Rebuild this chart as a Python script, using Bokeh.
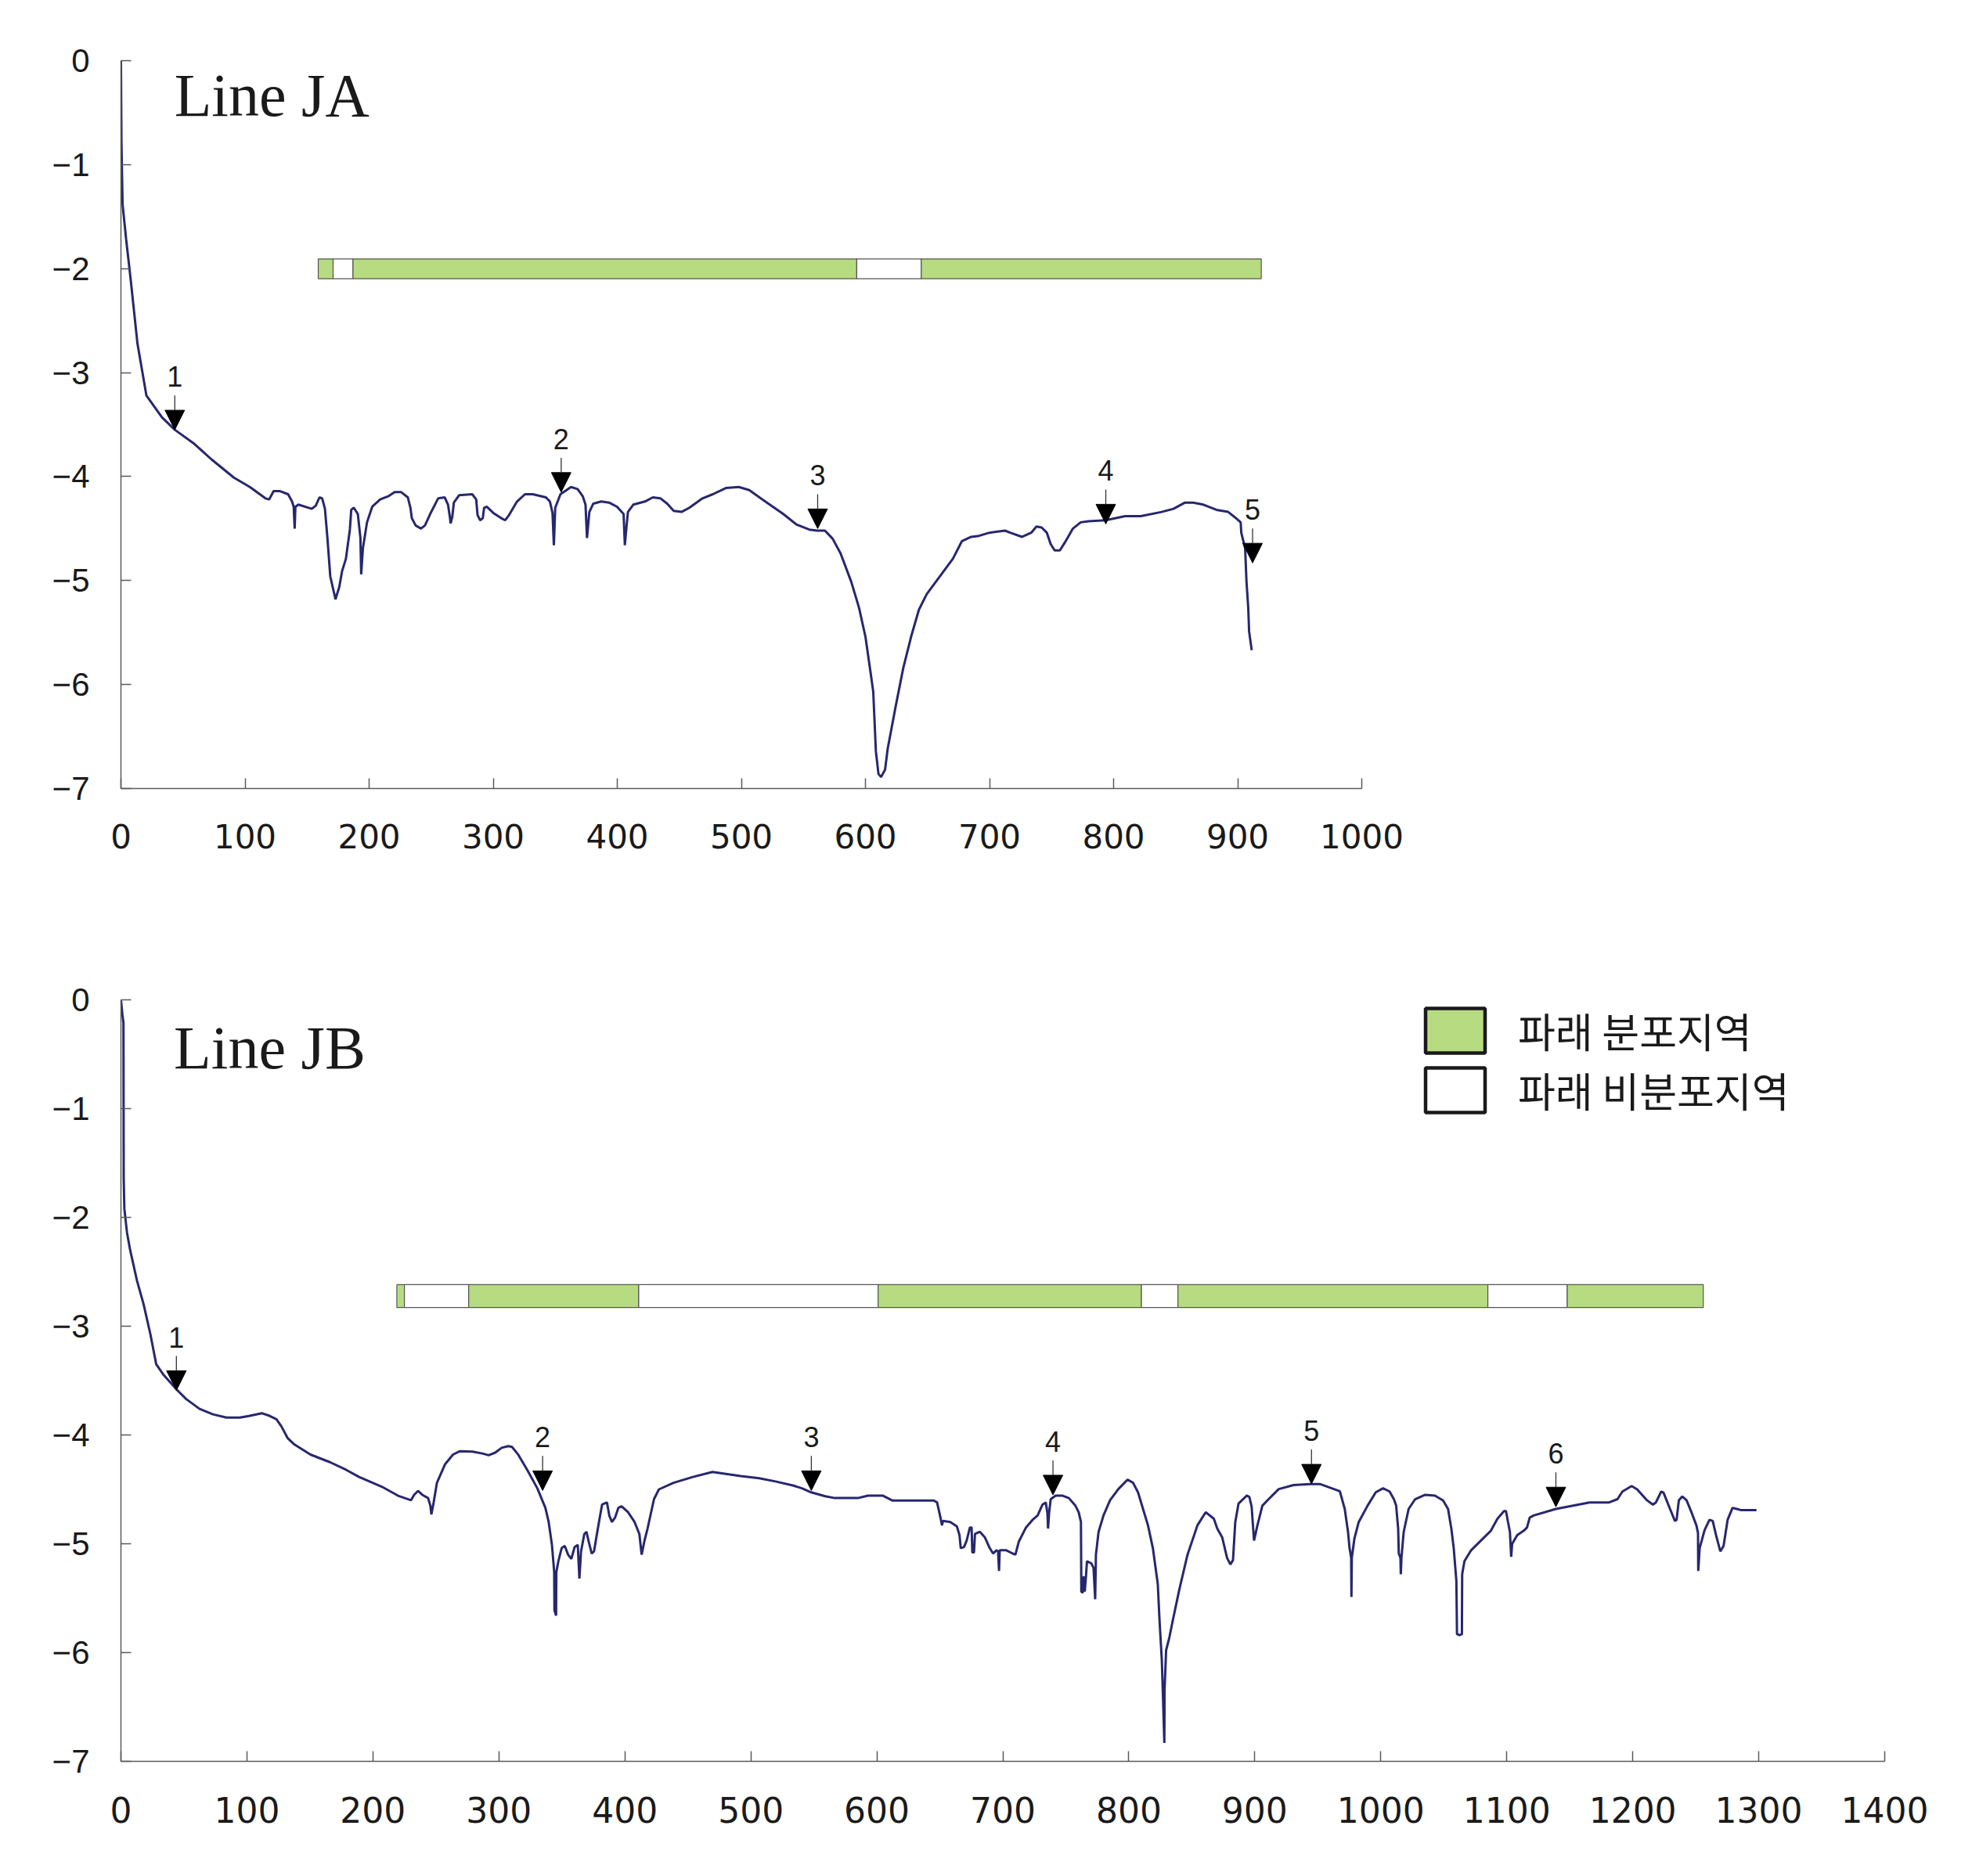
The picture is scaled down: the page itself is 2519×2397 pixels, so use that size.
from bokeh.plotting import figure
from bokeh.models import (Range1d, FixedTicker, ColumnDataSource, Arrow, NormalHead,
                          Legend, LegendItem)
from bokeh.layouts import column
from bokeh.embed import file_html
from bokeh.resources import INLINE
from bokeh.core.properties import value

# ---------------- data: Line JA ----------------
ja_x = [0, 0.4, 1.3, 4.2, 7.9, 13.3, 20.5, 33, 43.4, 58.6, 73, 91, 103.9, 116.5, 119.5, 123,
        128.3, 134.7, 137.9, 139.2, 140, 140.6, 143, 153.8, 157, 160, 162.2, 164.4, 166.4,
        168.7, 172.9, 176, 178.2, 181.3, 184.5, 185.6, 187.7, 190.9, 193, 193.6, 195, 198.3,
        202.5, 208.9, 215.3, 220.6, 225.9, 231.2, 233.3, 234.4, 237.5, 241.8, 245, 249.2,
        255.6, 260.9, 263.6, 265.1, 265.7, 267, 268.3, 272.5, 283.1, 286.3, 287.4, 289.5,
        291.6, 292.7, 294.8, 300.1, 306.5, 309.7, 312.8, 319.2, 325.6, 331.9, 342.5, 345.7,
        347.8, 348.9, 350, 354.2, 362.7, 368, 372.2, 374.4, 375.6, 377.5, 380.7, 387.1,
        393.4, 399.8, 405.1, 406.1, 407.3, 408.6, 412.9, 422.3, 428.6, 434.9, 440.2, 445.5,
        451.8, 458.1, 468.6, 477, 487.5, 498, 506.4, 517, 533.8, 544.3, 554.8, 561.1, 567.4,
        573.7, 580, 588.5, 594.8, 600, 604.2, 606.3, 608.4, 610.5, 612.6, 615.8, 617.9,
        624.2, 630.5, 636.8, 643.1, 649.4, 660, 670.5, 677.8, 685.2, 691.5, 699.9, 712.5,
        716.7, 726.2, 733.6, 737.8, 742, 746.2, 749.3, 752.5, 756.7, 760.9, 767.2, 773.5,
        779.8, 793.5, 809.3, 821.9, 838.7, 848.2, 857.6, 864, 872.4, 882.9, 892.3, 897.6,
        902.4, 902.9, 906, 907.1, 908.5, 909.2, 911.3]
ja_y = [0, -0.78, -1.38, -1.72, -2.11, -2.72, -3.22, -3.43, -3.55, -3.68, -3.835, -4.01, -4.10,
        -4.21, -4.22, -4.14, -4.14, -4.17, -4.24, -4.29, -4.50, -4.29, -4.27, -4.31, -4.28,
        -4.20, -4.21, -4.31, -4.59, -4.96, -5.18, -5.06, -4.91, -4.79, -4.51, -4.32, -4.30,
        -4.36, -4.59, -4.94, -4.69, -4.44, -4.29, -4.22, -4.19, -4.15, -4.15, -4.20, -4.30,
        -4.40, -4.47, -4.50, -4.47, -4.36, -4.21, -4.20, -4.27, -4.39, -4.45, -4.39, -4.25,
        -4.18, -4.17, -4.22, -4.37, -4.42, -4.40, -4.30, -4.29, -4.35, -4.40, -4.42, -4.37,
        -4.24, -4.17, -4.17, -4.20, -4.24, -4.35, -4.66, -4.30, -4.17, -4.10, -4.12, -4.19,
        -4.27, -4.59, -4.34, -4.26, -4.24, -4.25, -4.29, -4.36, -4.66, -4.50, -4.34, -4.27,
        -4.24, -4.20, -4.21, -4.26, -4.33, -4.34, -4.30, -4.21, -4.17, -4.11, -4.10, -4.13,
        -4.22, -4.36, -4.46, -4.51, -4.52, -4.52, -4.60, -4.74, -5.01, -5.26, -5.54, -5.89,
        -6.07, -6.64, -6.86, -6.89, -6.82, -6.62, -6.22, -5.84, -5.54, -5.28, -5.13, -4.96,
        -4.79, -4.62, -4.58, -4.57, -4.54, -4.52, -4.54, -4.58, -4.54, -4.48, -4.49, -4.54,
        -4.65, -4.71, -4.71, -4.63, -4.50, -4.44, -4.43, -4.42, -4.38, -4.38, -4.34, -4.31,
        -4.25, -4.25, -4.27, -4.32, -4.34, -4.39, -4.44, -4.54, -4.69, -5.01, -5.26, -5.49,
        -5.67]

ja_zone_start = [159, 171, 187, 593, 645]
ja_zone_end = [171, 187, 593, 645, 919]
ja_zone_present = [True, False, True, False, True]

ja_mark_x = [43.4, 354.8, 561.5, 793.7, 912]
ja_mark_y = [-3.55, -4.15, -4.50, -4.455, -4.83]
ja_mark_label = ["1", "2", "3", "4", "5"]

# ---------------- data: Line JB ----------------
jb_x = [0, 1.2, 2, 2.2, 2.7, 4.8, 7.3, 12.7, 18, 23.3, 28, 34, 44, 51.8, 62.4, 73, 83.8, 94.4,
        101.5, 111.8, 117, 123.4, 127.3, 132.4, 137.6, 150.4, 165.9, 178.7, 189, 207, 219.9,
        230.2, 232.7, 235.8, 239.2, 243.8, 245.6, 246.4, 248.2, 250.8, 257.2, 263.6, 268.8,
        279, 286.8, 291.9, 297.1, 302.2, 307.4, 310.4, 315.1, 322.8, 330.5, 336.9, 339.5,
        342.1, 343.9, 344.1, 345.4, 345.6, 347.2, 349.8, 352.3, 354.9, 357.5, 360.1, 362.6,
        363.9, 365.2, 367.8, 369.5, 371.7, 373.7, 375.5, 378.1, 379.9, 381.9, 385.8, 387.6,
        389.7, 392.2, 394.8, 397.4, 402.5, 407.7, 411.5, 413.3, 415.4, 418, 423.1, 427,
        438.6, 454, 469.5, 492, 506.5, 519.6, 534, 540.5, 547.9, 558.9, 566.7, 585, 592.9,
        604.6, 612.5, 645.2, 647.8, 650.4, 651.7, 652.5, 658.3, 663.5, 665.6, 666.6, 669.2,
        671.3, 673.9, 675.2, 675.8, 677.1, 677.9, 681.8, 685.7, 689.6, 692.3, 694.9, 696.2,
        697, 697.5, 702.7, 707.9, 710, 712.7, 718.4, 723.6, 727.6, 731.5, 734.1, 735.4,
        735.9, 736.7, 738, 741.9, 747.1, 752.4, 757.6, 760.2, 762, 762.3, 763.4, 764.2, 765,
        766, 766.8, 770.2, 772, 773.3, 773.9, 776, 779.9, 785.1, 791.7, 799, 803.4, 807.3,
        815.2, 819.1, 823, 824.4, 826.2, 827, 828.2, 828.4, 829.6, 832.2, 834.8, 840.1,
        846.6, 854.5, 861, 867.5, 870.2, 874.1, 878, 880.6, 882.7, 884.5, 887.1, 893.7,
        895.7, 897.5, 899.4, 902.1, 906, 909.9, 919, 930.8, 943.8, 951.7, 967.5, 971.4, 974,
        975.2, 976.5, 976.7, 977, 979.1, 982.5, 989.5, 996, 1001.8, 1007, 1010.4, 1012.2,
        1013.8, 1014.3, 1015.6, 1015.9, 1016.4, 1018.2, 1022.1, 1027.3, 1035.2, 1043,
        1049.5, 1053.4, 1056, 1057.9, 1060, 1060.5, 1062.6, 1064.4, 1064.6, 1066.4, 1071.7,
        1079.5, 1087.4, 1092.6, 1097.8, 1099.4, 1101, 1102.5, 1103.5, 1104.3, 1108.3,
        1113.5, 1116.1, 1118.2, 1121.3, 1139, 1165.7, 1181.3, 1187.9, 1191.8, 1199.1,
        1203.5, 1211.3, 1216, 1218.4, 1222.6, 1224.4, 1229.6, 1233.5, 1234.8, 1236.6,
        1239.3, 1242.7, 1246.6, 1250.5, 1251.8, 1252, 1253.1, 1257, 1260.9, 1263.5, 1266.1,
        1269.5, 1272.1, 1275.3, 1279.2, 1282.6, 1285.7, 1298.2]
jb_y = [0, -0.14, -0.21, -1.64, -1.92, -2.14, -2.30, -2.58, -2.80, -3.07, -3.35, -3.45, -3.58,
        -3.67, -3.76, -3.81, -3.84, -3.84, -3.825, -3.80, -3.82, -3.855, -3.92, -4.03,
        -4.087, -4.18, -4.25, -4.32, -4.386, -4.475, -4.558, -4.60, -4.55, -4.514, -4.55,
        -4.58, -4.65, -4.73, -4.62, -4.44, -4.27, -4.18, -4.15, -4.153, -4.17, -4.186,
        -4.162, -4.118, -4.103, -4.11, -4.177, -4.327, -4.49, -4.67, -4.80, -5.01, -5.26,
        -5.61, -5.66, -5.26, -5.16, -5.04, -5.02, -5.10, -5.14, -5.03, -5.01, -5.32, -5.07,
        -4.91, -4.89, -5.00, -5.09, -5.07, -4.89, -4.77, -4.64, -4.62, -4.74, -4.80, -4.76,
        -4.67, -4.655, -4.71, -4.80, -4.91, -5.10, -4.98, -4.86, -4.59, -4.50, -4.44,
        -4.386, -4.34, -4.377, -4.397, -4.427, -4.466, -4.49, -4.527, -4.563, -4.58, -4.58,
        -4.557, -4.557, -4.603, -4.603, -4.62, -4.754, -4.83, -4.79, -4.80, -4.84, -4.92,
        -5.04, -5.03, -4.97, -4.85, -4.85, -5.08, -5.08, -4.91, -4.89, -4.94, -5.04, -5.09,
        -5.06, -5.07, -5.25, -5.06, -5.06, -5.09, -5.10, -4.98, -4.85, -4.78, -4.74, -4.64,
        -4.62, -4.72, -4.86, -4.72, -4.59, -4.557, -4.557, -4.58, -4.65, -4.71, -4.80,
        -5.44, -5.45, -5.30, -5.44, -5.30, -5.16, -5.18, -5.22, -5.51, -5.10, -4.89, -4.74,
        -4.60, -4.497, -4.41, -4.44, -4.527, -4.83, -5.04, -5.37, -5.71, -6.07, -6.36,
        -6.83, -6.34, -5.98, -5.86, -5.71, -5.42, -5.10, -4.83, -4.71, -4.77, -4.86, -4.94,
        -5.13, -5.19, -5.15, -4.80, -4.63, -4.557, -4.57, -4.66, -4.97, -4.83, -4.65,
        -4.603, -4.497, -4.46, -4.451, -4.451, -4.517, -4.68, -4.89, -5.04, -5.13, -5.49,
        -5.13, -4.95, -4.80, -4.65, -4.527, -4.49, -4.52, -4.59, -4.65, -4.86, -5.09, -5.13,
        -5.28, -5.13, -4.89, -4.68, -4.59, -4.55, -4.557, -4.603, -4.68, -4.86, -5.04,
        -5.34, -5.83, -5.84, -5.83, -5.28, -5.16, -5.06, -4.97, -4.88, -4.77, -4.70, -4.70,
        -4.80, -4.89, -5.12, -5.00, -4.92, -4.88, -4.85, -4.76, -4.74, -4.68, -4.62, -4.62,
        -4.59, -4.52, -4.47, -4.50, -4.60, -4.64, -4.62, -4.52, -4.53, -4.68, -4.79, -4.78,
        -4.60, -4.565, -4.60, -4.71, -4.83, -4.90, -5.25, -5.04, -4.875, -4.78, -4.79,
        -4.92, -5.07, -5.02, -4.78, -4.67, -4.68, -4.69, -4.69]

jb_zone_start = [219, 225, 276, 411, 601, 810, 839, 1085, 1148]
jb_zone_end = [225, 276, 411, 601, 810, 839, 1085, 1148, 1256]
jb_zone_present = [True, False, True, False, True, False, True, False, True]

jb_mark_x = [44, 334.7, 548, 739.8, 945, 1139]
jb_mark_y = [-3.59, -4.51, -4.51, -4.55, -4.45, -4.66]
jb_mark_label = ["1", "2", "3", "4", "5", "6"]

y_ticks = [0, -1, -2, -3, -4, -5, -6, -7]
legend_labels = ["파래 분포지역", "파래 비분포지역"]

# ---------------- styles ----------------
GREEN = "#B7DB80"
LINE = "#27276E"
AXIS = "#5a5a5a"
TXT = "#1a1a1a"


def make_fig(width, height, xmax, borders, title, title_x, title_y,
             zs, ze, zp, zone_lo, zone_hi, mx, my, ml, cx, cy, stem, xfont):
    bl, br, bt, bb = borders
    p = figure(width=width, height=height, x_range=Range1d(0, xmax), y_range=Range1d(-7, 0),
               output_backend="svg", toolbar_location=None,
               min_border_left=bl, min_border_right=br, min_border_top=bt, min_border_bottom=bb)
    p.outline_line_color = None
    p.xgrid.visible = False
    p.ygrid.visible = False
    p.background_fill_color = "white"

    for ax in (p.xaxis[0], p.yaxis[0]):
        ax.axis_line_color = AXIS
        ax.axis_line_width = 1.5
        ax.major_tick_line_color = AXIS
        ax.major_tick_line_width = 1.5
        ax.major_tick_in = 13
        ax.major_tick_out = 0
        ax.minor_tick_line_color = None
        ax.major_label_text_color = TXT
    p.xaxis.ticker = FixedTicker(ticks=list(range(0, xmax + 1, 100)))
    p.xaxis.major_label_text_font = "DejaVu Sans"
    p.xaxis.major_label_text_font_size = xfont
    p.xaxis.major_label_standoff = 45
    p.yaxis.ticker = FixedTicker(ticks=y_ticks)
    p.yaxis.major_label_overrides = {t: (str(t) if t >= 0 else "\u2212" + str(-t)) for t in y_ticks}
    p.yaxis.major_label_text_font = "Liberation Sans"
    p.yaxis.major_label_text_font_size = "42px"
    p.yaxis.major_label_standoff = 40

    # zone bars
    zsrc = ColumnDataSource(dict(left=zs, right=ze,
                                 color=[GREEN if z else "white" for z in zp]))
    p.quad(left="left", right="right", bottom=zone_lo, top=zone_hi, fill_color="color",
           line_color="#555555", line_width=1.2, source=zsrc)

    # profile line
    p.line(cx, cy, line_color=LINE, line_width=3)

    # markers: stem + triangle, label above
    asrc = ColumnDataSource(dict(x=mx, y=my, ys=[v + stem for v in my], t=ml))
    p.add_layout(Arrow(end=NormalHead(size=25, fill_color="black", line_color="black",
                                      line_width=1),
                       x_start="x", y_start="ys", x_end="x", y_end="y",
                       line_color="#333333", line_width=1.3, source=asrc))
    p.text(x="x", y="y", text="t", source=asrc, y_offset=-68, text_align="center",
           text_baseline="middle", text_font=value("Liberation Sans"),
           text_font_size="36px", text_color=TXT)

    # panel title
    p.text(x=[title_x], y=[title_y], text=[title], text_font=value("Liberation Serif"),
           text_font_size="78px", text_color=TXT, text_baseline="middle",
           text_align="left")
    return p


p1 = make_fig(1819, 1100, 1000, (154, 80, 77, 93), "Line JA", 43.0, -0.331,
              ja_zone_start, ja_zone_end, ja_zone_present, -2.097, -1.907,
              ja_mark_x, ja_mark_y, ja_mark_label, ja_x, ja_y, 0.33, "42px")

p2 = make_fig(2487, 1250, 1400, (146, 80, 177, 100), "Line JB", 42, -0.439,
              jb_zone_start, jb_zone_end, jb_zone_present, -2.828, -2.618,
              jb_mark_x, jb_mark_y, jb_mark_label, jb_x, jb_y, 0.317, "44px")

# legend: swatch renderers reuse the zone intervals on an off-screen range,
# so only their legend glyphs are visible
p2.extra_y_ranges = {"swatch": Range1d(1000, 1001)}
g_idx = [i for i, z in enumerate(jb_zone_present) if z]
w_idx = [i for i, z in enumerate(jb_zone_present) if not z]
rg = p2.quad(left=[jb_zone_start[i] for i in g_idx], right=[jb_zone_end[i] for i in g_idx],
             bottom=-2.828, top=-2.618, y_range_name="swatch",
             fill_color=GREEN, line_color="#1a1a1a", line_width=4.5)
rw = p2.quad(left=[jb_zone_start[i] for i in w_idx], right=[jb_zone_end[i] for i in w_idx],
             bottom=-2.828, top=-2.618, y_range_name="swatch",
             fill_color="white", line_color="#1a1a1a", line_width=4.5)
legend = Legend(items=[LegendItem(label=legend_labels[0], renderers=[rg]),
                       LegendItem(label=legend_labels[1], renderers=[rw])],
                location=(1657, 820), orientation="vertical",
                glyph_width=95, glyph_height=71, spacing=1, label_standoff=33,
                padding=0, margin=0,
                label_text_font="Noto Sans CJK KR", label_text_font_size="52px",
                label_text_color=TXT, border_line_color=None, background_fill_alpha=0)
p2.add_layout(legend)

layout = column(p1, p2)
open("out.html", "w").write(file_html(layout, INLINE))
